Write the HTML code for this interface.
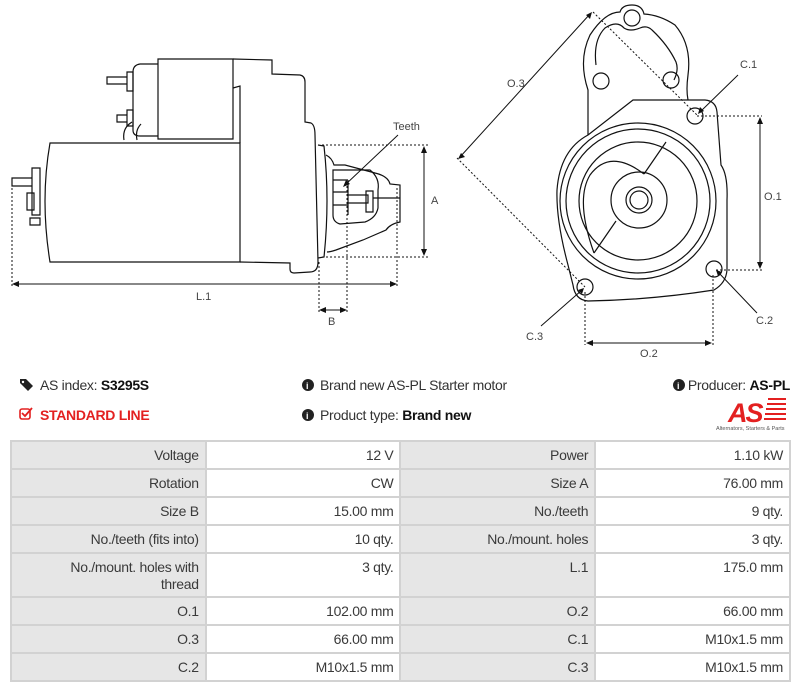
<!DOCTYPE html>
<html><head><meta charset="utf-8"><style>
body{margin:0;width:800px;height:692px;background:#fff;font-family:"Liberation Sans",sans-serif;color:#333;position:relative;overflow:hidden}
svg{position:absolute;left:0;top:0}
.t{position:absolute;font-size:14px;letter-spacing:-0.3px;white-space:nowrap;line-height:18px}
table{position:absolute;left:10px;top:440px;width:781px;border-collapse:collapse;font-size:14px;letter-spacing:-0.3px;color:#3a3a3a}
td{border:2px solid #d2d2d2;text-align:right;vertical-align:top;padding:5px 6px 0 6px;height:21px;line-height:17px}
td.l{background:#e6e6e6;width:181px}
td.v{background:#fff;width:181px}
</style></head><body>
<svg width="800" height="360" viewBox="0 0 800 360" fill="none" stroke="#111" stroke-width="1.2">
<path d="M50,143 L240,143 L240,262 L50,262 Q40,200 50,143 Z"/>
<path d="M158,59 L233,59 L233,139 L158,139 Z"/>
<path d="M158,64 L140,64 Q133,65 133,72 L133,130 Q133,136 140,136 L158,136"/>
<path d="M233,59 L272,60 L272,74 L300,75 Q305,76 305,82 L305,122 L311,123 Q315,125 315,135 L318,262 Q318,272 310,272 L294,273 Q290,273 290,269 L290,263 L240,262"/>
<path d="M233,88 L240,86 L240,143"/>
<path d="M318,145 L324,146 Q330,200 324,257 L318,258"/>
<path d="M326,155 Q332,158 334,165 L345,165 L375,173 Q388,176 390,184 L400,185 L400,222 Q390,224 386,230 L363,240 L336,250 Q330,252 327,252"/>
<path d="M333,170 L370,170 Q380,178 378,190 L378,208 Q376,218 365,222 L340,224 Q333,222 333,215 Z"/>
<path d="M333,180 L348,180 M333,192 L348,192 M333,205 L348,205 M348,180 L348,215"/>
<path d="M348,195 L368,195 L368,203 L348,203 M366,191 L373,191 L373,212 L366,212 Z M373,198 L400,198"/>
<path d="M107,77 L127,77 L127,84 L107,84 Z M127,72 L133,72 L133,91 L127,91 Z"/>
<path d="M117,115 L127,115 L127,122 L117,122 Z M127,110 L133,110 L133,126 L127,126 Z"/>
<path d="M12,178 L32,178 L32,186 L12,186 Z M32,168 L40,168 L40,215 L32,215 Z M27,193 L34,193 L34,210 L27,210 Z M30,218 L40,218 L40,225 L30,225 Z"/>
<path d="M124,140 Q122,128 132,122 M137,140 Q135,130 141,124" />
<g stroke-width="1" stroke-dasharray="2,2">
<path d="M12,188 L12,288 M397,188 L397,288 M322,145 L430,145 M322,257 L430,257 M319,262 L319,314 M347,182 L347,314"/>
<path d="M593,12 L697,115 M457,158 L585,287 M697,116 L762,116 M716,270 L762,270 M585,292 L585,345 M713,275 L713,345"/>
</g>
<g stroke-width="1">
<path d="M14,284 L395,284 M424,148 L424,254 M321,310 L345,310 M398,135 L345,185"/>
<path d="M590,14 L460,157 M760,119 L760,267 M588,343 L710,343 M738,75 L700,112 M757,313 L718,272 M541,326 L582,290"/>
</g>
<g fill="#111" stroke="none">
<path d="M12,284 l7,-3 v6z M397,284 l-7,-3 v6z M424,146 l-3,7 h6z M424,256 l-3,-7 h6z M319,310 l7,-3 v6z M347,310 l-7,-3 v6z M343,187 l3,-7 l4,4z"/>
<path d="M592,12 l-2,7 l-4,-4z M458,159 l7,-2 l-4,-4z M760,117 l-3,7 h6z M760,269 l-3,-7 h6z M586,343 l7,-3 v6z M712,343 l-7,-3 v6z M698,114 l2,-7 l4,4z M716,270 l6,2 l-4,4z M584,288 l-6,2 l4,4z"/>
</g>
<path d="M588,135 L588,90 Q578,60 590,35 Q605,12 620,12 Q622,5 632,5 Q642,5 644,14 Q660,15 675,25 Q692,45 688,75 Q686,90 688,100"/>
<path d="M596,65 Q593,40 605,28 Q617,20 624,28 Q630,32 640,28 Q647,25 652,30 Q668,45 676,62 Q679,70 674,80"/>
<path d="M588,135 L633,100 L705,100 Q716,101 717,112 L721,165 Q728,175 727,200 L727,270 Q726,283 714,290 Q650,300 588,301 Q575,300 573,285 L568,265 Q556,220 557,190 Q560,150 588,135 Z"/>
<circle cx="638" cy="201" r="78"/><circle cx="638" cy="201" r="72"/><circle cx="638" cy="201" r="59"/>
<circle cx="639" cy="200" r="28"/><circle cx="639" cy="200" r="13"/><circle cx="639" cy="200" r="9"/>
<path d="M666,142 L644,174 M616,221 L594,253"/>
<path d="M644,174 Q610,148 590,175 Q575,200 594,253" />
<circle cx="632" cy="18" r="8"/><circle cx="601" cy="81" r="8"/><circle cx="671" cy="80" r="8"/>
<circle cx="695" cy="116" r="8"/><circle cx="714" cy="269" r="8"/><circle cx="585" cy="287" r="8"/>
<g fill="#444" stroke="none" font-family="Liberation Sans,sans-serif" font-size="11">
<text x="393" y="130">Teeth</text><text x="431" y="204">A</text><text x="196" y="300">L.1</text><text x="328" y="325">B</text>
<text x="507" y="87">O.3</text><text x="740" y="68">C.1</text><text x="764" y="200">O.1</text><text x="756" y="324">C.2</text><text x="640" y="357">O.2</text><text x="526" y="340">C.3</text>
</g>
</svg>

<svg width="800" height="440" viewBox="0 0 800 440">
<g fill="#222"><path d="M20,379 L26,379 L33,386 L28,391 L20,383 Z"/><circle cx="23" cy="382" r="1.2" fill="#fff"/></g>
<rect x="20" y="409" width="10" height="10" rx="2" fill="none" stroke="#e32020" stroke-width="1.6"/>
<path d="M22,413 L25,416 L32,408" fill="none" stroke="#e32020" stroke-width="1.8"/>
<circle cx="308" cy="385" r="6" fill="#222"/><circle cx="308" cy="415" r="6" fill="#222"/><circle cx="679" cy="385" r="6" fill="#222"/>
<g fill="#fff" font-family="Liberation Sans" font-size="9" font-weight="bold"><text x="306" y="389">i</text><text x="306" y="419">i</text><text x="677" y="389">i</text></g>
<text x="728" y="422" fill="#e32020" font-family="Liberation Sans" font-size="27" font-weight="bold" font-style="italic" letter-spacing="-2">AS</text>
<g stroke="#e32020" stroke-width="2"><path d="M768,399 H786 M767,404 H786 M766,409 H786 M765,414 H786 M764,419 H786"/></g>
<text x="716" y="430" fill="#555" font-family="Liberation Sans" font-size="5.5">Alternators, Starters &amp; Parts</text>
</svg>

<div class="t" style="left:40px;top:376px">AS index: <b style="color:#111">S3295S</b></div>
<div class="t" style="left:40px;top:406px;color:#e32020;font-weight:bold">STANDARD LINE</div>
<div class="t" style="left:320px;top:376px">Brand new AS-PL Starter motor</div>
<div class="t" style="left:320px;top:406px">Product type: <b style="color:#111">Brand new</b></div>
<div class="t" style="right:10px;top:376px">Producer: <b style="color:#111">AS-PL</b></div>

<table>
<tr><td class="l">Voltage</td><td class="v">12 V</td><td class="l">Power</td><td class="v">1.10 kW</td></tr>
<tr><td class="l">Rotation</td><td class="v">CW</td><td class="l">Size A</td><td class="v">76.00 mm</td></tr>
<tr><td class="l">Size B</td><td class="v">15.00 mm</td><td class="l">No./teeth</td><td class="v">9 qty.</td></tr>
<tr><td class="l">No./teeth (fits into)</td><td class="v">10 qty.</td><td class="l">No./mount. holes</td><td class="v">3 qty.</td></tr>
<tr><td class="l" style="height:37px">No./mount. holes with<br>thread</td><td class="v">3 qty.</td><td class="l">L.1</td><td class="v">175.0 mm</td></tr>
<tr><td class="l">O.1</td><td class="v">102.00 mm</td><td class="l">O.2</td><td class="v">66.00 mm</td></tr>
<tr><td class="l">O.3</td><td class="v">66.00 mm</td><td class="l">C.1</td><td class="v">M10x1.5 mm</td></tr>
<tr><td class="l">C.2</td><td class="v">M10x1.5 mm</td><td class="l">C.3</td><td class="v">M10x1.5 mm</td></tr>
</table>
</body></html>
